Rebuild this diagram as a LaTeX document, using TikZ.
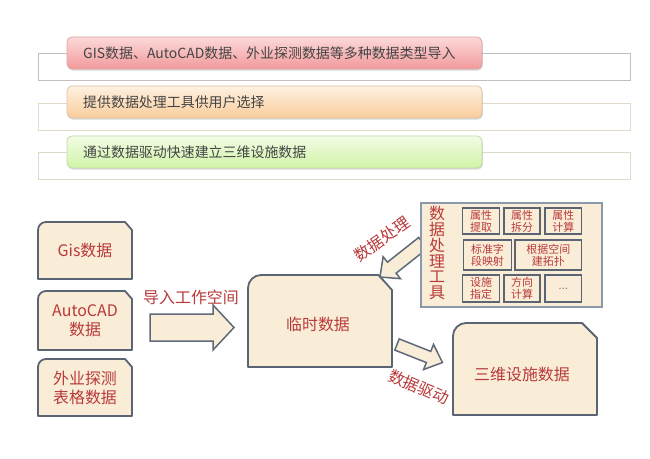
\documentclass[tikz,border=0pt]{standalone}
\usepackage{fontspec}
\newfontfamily\cjk{Noto Sans CJK SC}
\usetikzlibrary{calc,shadows}

\definecolor{boxfill}{HTML}{FAEDD8}
\definecolor{boxline}{HTML}{5A6472}
\definecolor{arrline}{HTML}{5E6A7A}
\definecolor{toolline}{HTML}{8C99AC}
\definecolor{lbl}{HTML}{B83A3A}
\definecolor{toptext}{HTML}{444444}
\definecolor{frameA}{HTML}{C6BDBD}
\definecolor{frameB}{HTML}{E4DAC8}
\definecolor{frameC}{HTML}{DCDCC6}
\definecolor{pinkT}{HTML}{FCD9D9}
\definecolor{pinkB}{HTML}{F2999B}
\definecolor{pinkL}{HTML}{DDA4A4}
\definecolor{orT}{HTML}{FEF1E0}
\definecolor{orB}{HTML}{F9CD9C}
\definecolor{orL}{HTML}{DEC3A0}
\definecolor{grT}{HTML}{F3FCE6}
\definecolor{grB}{HTML}{D0F4A6}
\definecolor{grL}{HTML}{C3D8A8}

\tikzset{
  lbltxt/.style={font=\cjk\fontsize{16}{19}\selectfont, text=lbl, align=center, inner sep=0pt},
  toptxt/.style={font=\cjk\fontsize{14}{16}\selectfont, text=toptext, anchor=west, inner sep=0pt},
  shapebox/.style={draw=boxline, line width=1.8bp, fill=boxfill, line join=round},
  tinybox/.style={draw=boxline, line width=1.5bp, fill=boxfill, inner sep=0pt,
    font=\cjk\fontsize{11}{12}\selectfont, text=lbl, align=center},
  toolbox/.style={draw=toolline, line width=1.4bp, fill=boxfill},
  blockarr/.style={draw=arrline, line width=1.5bp, fill=boxfill, line join=miter},
  framebox/.style={fill=white, line width=0.9bp},
  band/.style={rounded corners=5bp, line width=0.8bp,
    drop shadow={shadow xshift=0.8bp, shadow yshift=-1.6bp, opacity=0.3}},
}

% name, x1, y1, x2, y2, corner radius, chamfer width, chamfer height
\newcommand\chamferbox[8]{%
  \draw[shapebox] (#2,#5) -- (#2,#3+#6)
    .. controls (#2,#3+0.45*#6) and (#2+0.45*#6,#3) .. (#2+#6,#3)
    -- (#4-#7,#3) -- (#4,#3+#8) -- (#4,#5) -- cycle;
  \coordinate (#1) at ({(#2+#4)/2},{(#3+#5)/2});
}
% tail, tip, body half width, head half width, head length
\newcommand\blockarrow[5]{%
  \coordinate (ba-h) at ($(#2)!#5!(#1)$);
  \draw[blockarr] ($(#1)!#3!90:(#2)$) -- ($(ba-h)!#3!-90:(#1)$)
    -- ($(ba-h)!#4!-90:(#1)$) -- (#2) -- ($(ba-h)!#4!90:(#1)$)
    -- ($(ba-h)!#3!90:(#1)$) -- ($(#1)!#3!-90:(#2)$) -- cycle;
}

\begin{document}
\begin{tikzpicture}[x=1bp,y=-1bp]
\useasboundingbox[fill=white] (0,0) rectangle (650,459);

% ---------- top section ----------
\draw[framebox, draw=frameA] (38,53) rectangle (630,80.5);
\draw[band, draw=pinkL, top color=pinkT, bottom color=pinkB] (67,37) rectangle (482,69);
\node[toptxt] (t1) at (83,53) {GIS数据、AutoCAD数据、外业探测数据等多种数据类型导入};

\draw[framebox, draw=frameB] (38,103) rectangle (630,130);
\draw[band, draw=orL, top color=orT, bottom color=orB] (67,86) rectangle (482,118);
\node[toptxt] (t2) at (83,102) {提供数据处理工具供用户选择};

\draw[framebox, draw=frameC] (38,152) rectangle (630,179.5);
\draw[band, draw=grL, top color=grT, bottom color=grB] (67,136) rectangle (482,168);
\node[toptxt] (t3) at (83,152) {通过数据驱动快速建立三维设施数据};

% ---------- source boxes ----------
\chamferbox{gis}{38}{222}{132}{279}{8}{7}{8}
\node[lbltxt] (gist) at (gis) {Gis数据};
\chamferbox{cad}{38}{291}{132}{350}{8}{7}{8}
\node[lbltxt] (cadt) at (cad) {AutoCAD\\数据};
\chamferbox{xls}{38}{359}{132}{416}{8}{7}{8}
\node[lbltxt] (xlst) at (xls) {外业探测\\表格数据};

% ---------- import arrow ----------
\coordinate (impT) at (150,327.5);
\coordinate (impP) at (234,327.5);
\blockarrow{impT}{impP}{13.5bp}{22.5bp}{21bp}
\node[lbltxt] (impl) at (191,297) {导入工作空间};

% ---------- temporary data ----------
\chamferbox{tmp}{248}{275}{392}{367}{13}{13.5}{15}
\node[lbltxt] (tmpt) at (318,324) {临时数据};

% ---------- processing arrow ----------
\coordinate (proT) at (423,243);
\coordinate (proP) at (380,277);
\blockarrow{proT}{proP}{7bp}{14bp}{15bp}
\node[lbltxt, rotate=35] (prol) at (382,239) {数据处理};

% ---------- tool box ----------
\draw[toolbox] (421,203) rectangle (602,307);
\coordinate (tool) at (511.5,255);
\node[lbltxt, font=\cjk\fontsize{16}{16}\selectfont] (toolt) at (437,253) {数\\据\\处\\理\\工\\具};
\node[tinybox, minimum width=36.6bp, minimum height=26bp] (a1) at (481,221) {属性\\提取};
\node[tinybox, minimum width=36bp, minimum height=26bp] (a2) at (522,221) {属性\\拆分};
\node[tinybox, minimum width=36.7bp, minimum height=26bp] (a3) at (563.3,221) {属性\\计算};
\node[tinybox, minimum width=48.4bp, minimum height=30bp] (b1) at (487.5,255) {标准字\\段映射};
\node[tinybox, minimum width=66.7bp, minimum height=30bp] (b2) at (548.3,255) {根据空间\\建拓扑};
\node[tinybox, minimum width=36.6bp, minimum height=27bp] (c1) at (481,288.5) {设施\\指定};
\node[tinybox, minimum width=36bp, minimum height=27bp] (c2) at (522,288.5) {方向\\计算};
\node[tinybox, minimum width=36.7bp, minimum height=27bp, text=gray] (c3) at (563.3,288.5) {\raisebox{-2bp}{...}};

% ---------- 3D facility data ----------
\chamferbox{fac}{453}{323}{597}{415}{13}{15}{15}
\node[lbltxt] (fact) at (522,374) {三维设施数据};

% ---------- driving arrow ----------
\coordinate (drvT) at (397,344.5);
\coordinate (drvP) at (442.5,362.5);
\blockarrow{drvT}{drvP}{6bp}{13.5bp}{15bp}
\node[lbltxt, rotate=-23] (drvl) at (419,387) {数据驱动};

\end{tikzpicture}
\end{document}
